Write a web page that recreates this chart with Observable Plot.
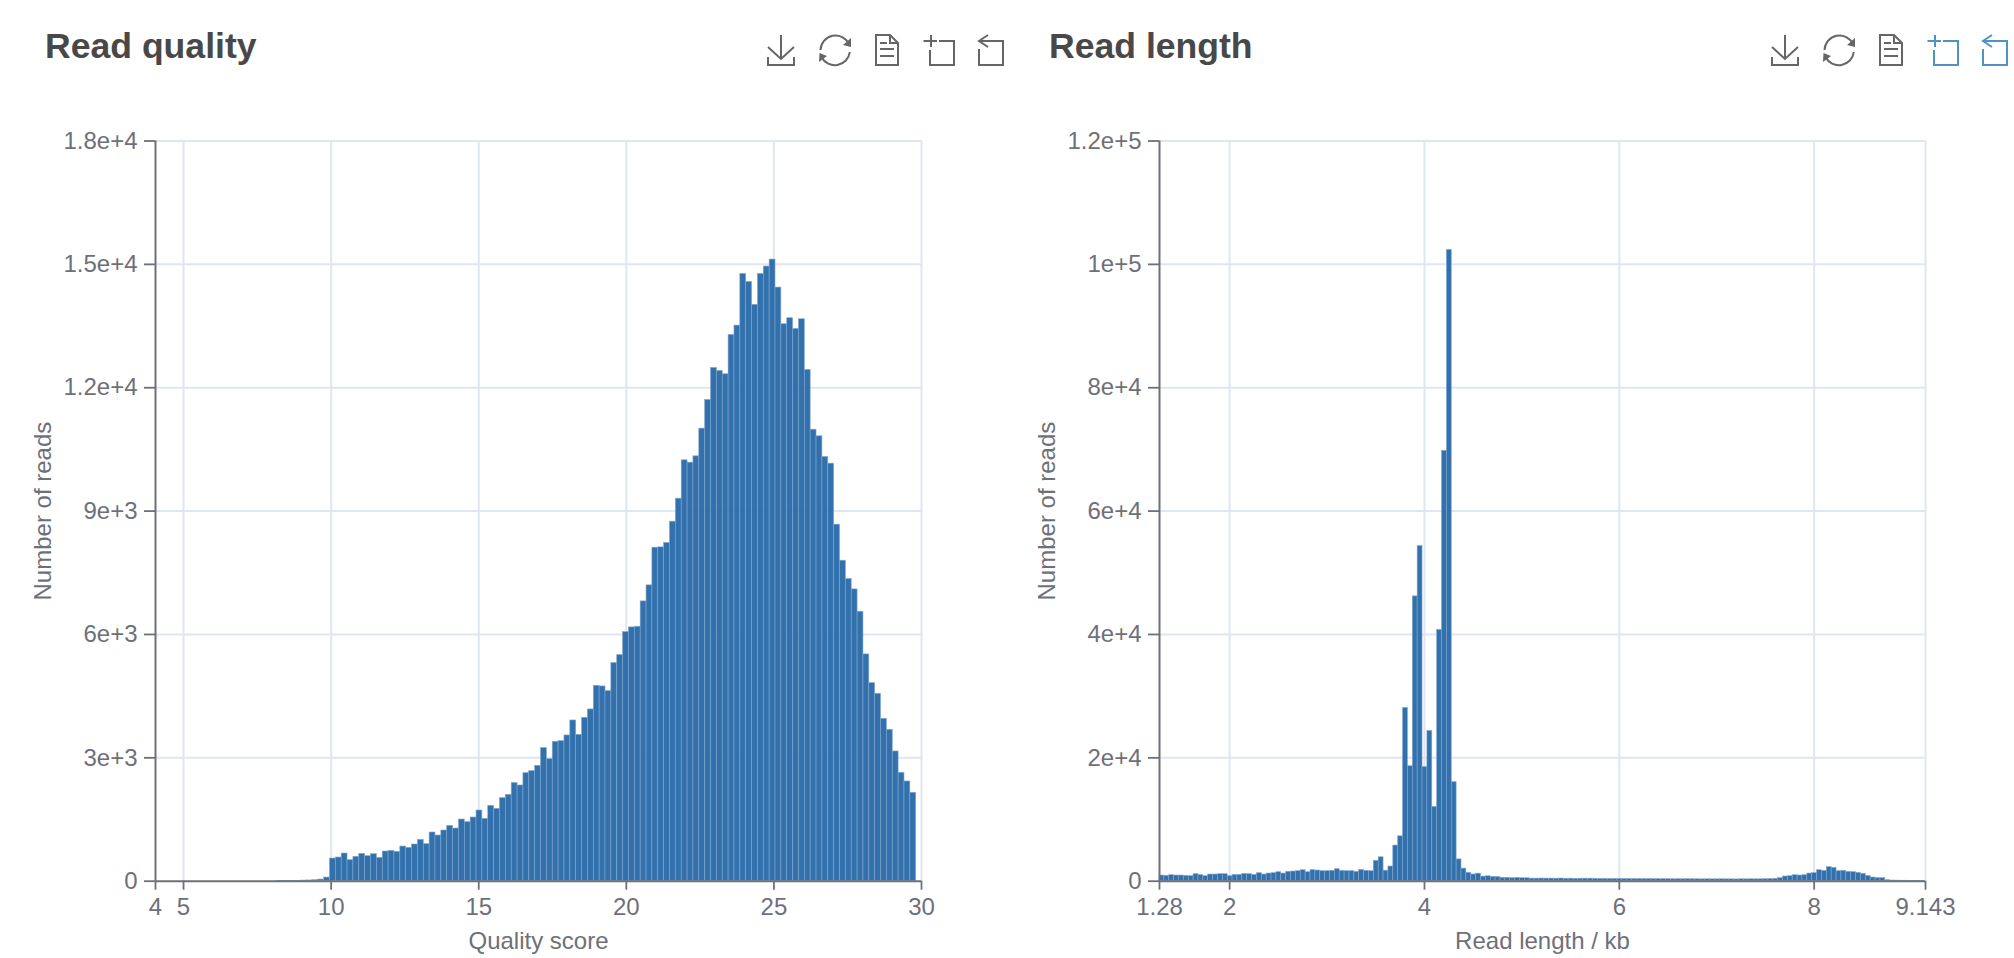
<!DOCTYPE html>
<html>
<head>
<meta charset="utf-8">
<script src="https://cdn.jsdelivr.net/npm/d3@7"></script>
<script src="https://cdn.jsdelivr.net/npm/@observablehq/plot@0.6"></script>
<style>
html,body{margin:0;padding:0;background:#fff;overflow:hidden}
#page{position:relative;width:2014px;height:958px}
.panel{position:absolute;top:100px;width:1004px}
h2{position:absolute;margin:0;top:24px;font:bold 35.6px "Liberation Sans",sans-serif;color:#484848;line-height:44px}
.tools{position:absolute;top:0;width:310px;height:80px;fill:none;stroke-width:2}
.tools .solid{stroke:none}
svg{display:block}
</style>
</head>
<body>
<div id="page"></div>
<script>
// Read quality histogram
const qualityStart = 8.173;
const qualityBinWidth = 0.1986;
const qualityCounts = [
  4,5,8,10,15,18,25,40,89,
  551,576,673,511,592,665,608,657,568,722,738,714,843,811,892,1006,900,1184,1111,1233,
  1346,1281,1500,1435,1549,1719,1517,1833,1760,
  2020,2100,2385,2328,2628,2676,2806,3236,2968,3390,3406,3544,3909,3560,3974,4177,4752,4736,4623,
  5304,5499,6058,6172,6188,6804,7194,8110,8118,8224,8743,
  9302,10235,10178,10332,11005,11703,12481,12408,12327,13284,13511,14768,14574,
  14016,14768,14947,15117,14436,13544,13690,13430,13665,12432,10980,10819,10316,10154,
  8670,7794,7348,7096,6553,5515,4817,4558,3950,3682,3155,2636,2425,2150
];
const qualityXDomain = [4.05,30];
const qualityXTicks = [4.05,5,10,15,20,25,30];
const qualityXLabels = ["4","5","10","15","20","25","30"];
const qualityXGrid = [5,10,15,20,25,30];
const qualityYTicks = [0,3000,6000,9000,12000,15000,18000];
const qualityYLabels = ["0","3e+3","6e+3","9e+3","1.2e+4","1.5e+4","1.8e+4"];

// Read length histogram
const lengthStart = 1.28;
const lengthBinWidth = 0.05;
const lengthCounts = [
  918,864,972,918,918,864,810,1134,972,810,1080,1080,1134,1134,810,1026,1026,1188,1134,1026,
  1296,1080,1242,1296,1458,1242,1512,1566,1620,1782,1458,1782,1728,1620,1620,1674,1944,1674,1620,1620,
  1512,1836,1674,1620,3294,3876,1700,2380,5780,7276,
  28084,18632,46172,54332,18496,24344,12036,40732,69768,102340,16048,
  3536,2040,1360,1088,1224,748,800,680,680,544,544,480,540,480,480,420,420,
  430,420,420,410,430,400,410,390,400,410,410,390,370,360,360,350,370,360,350,340,340,330,340,330,
  320,330,320,310,320,310,320,310,310,300,310,300,300,310,300,300,290,310,300,310,300,310,320,340,
  380,490,760,810,970,920,970,1240,1300,1780,1670,2270,2160,1620,1670,1510,1460,1350,1190,860,600,490,490,160,
  110,90,80,70,60,60,50
];
const lengthXDomain = [1.28,9.143];
const lengthXTicks = [1.28,2,4,6,8,9.143];
const lengthXLabels = ["1.28","2","4","6","8","9.143"];
const lengthXGrid = [2,4,6,8,9.143];
const lengthYTicks = [0,20000,40000,60000,80000,100000,120000];
const lengthYLabels = ["0","2e+4","4e+4","6e+4","8e+4","1e+5","1.2e+5"];

const axisColor = "#6E7079";
const gridColor = "#E0E6F1";
const barColor = "#2d6dab";
const barEdge = "#7fa6d0";
const font = '"Liberation Sans",sans-serif';

function chart({counts,start,bin,xDomain,xTicks,xLabels,xGrid,yTicks,yLabels,xLabel}) {
  const bars = counts.map((c,i)=>({x1:start+i*bin,x2:start+(i+1)*bin,y:c}));
  return Plot.plot({
    width:1004,height:858,
    marginTop:40.5,marginLeft:155,marginRight:83,marginBottom:77.3,
    style:{fontFamily:font,color:axisColor,overflow:"visible",background:"transparent"},
    x:{type:"linear",domain:xDomain},
    y:{type:"linear",domain:[0,yTicks[yTicks.length-1]]},
    marks:[
      Plot.ruleX(xGrid,{stroke:gridColor,strokeWidth:2}),
      Plot.ruleY(yTicks.slice(1),{stroke:gridColor,strokeWidth:2}),
      Plot.rectY(bars,{x1:"x1",x2:"x2",y:"y",fill:barColor,stroke:barEdge,strokeWidth:0.6,opacity:0.97}),
      Plot.axisX({ticks:xTicks,tickFormat:d=>xLabels[xTicks.indexOf(d)],tickSize:9,tickPadding:8,fontSize:24,strokeWidth:1.8,
        label:xLabel,labelAnchor:"center",labelArrow:"none",labelOffset:68,stroke:axisColor,fill:axisColor}),
      Plot.axisY({ticks:yTicks,tickFormat:d=>yLabels[yTicks.indexOf(d)],tickSize:11,tickPadding:7,fontSize:24,strokeWidth:1.8,
        label:"Number of reads",labelAnchor:"center",labelArrow:"none",labelOffset:122,stroke:axisColor,fill:axisColor}),
      Plot.ruleX([xDomain[0]],{stroke:axisColor,strokeWidth:2}),
      Plot.ruleY([0],{stroke:axisColor,strokeWidth:2})
    ]
  });
}

const panels = [
  {left:0,title:"Read quality",toolBase:696,active:false,plot:chart({
    counts:qualityCounts,start:qualityStart,bin:qualityBinWidth,xDomain:qualityXDomain,
    xTicks:qualityXTicks,xLabels:qualityXLabels,xGrid:qualityXGrid,yTicks:qualityYTicks,yLabels:qualityYLabels,
    xLabel:"Quality score"})},
  {left:1004,title:"Read length",toolBase:1700,active:true,plot:chart({
    counts:lengthCounts,start:lengthStart,bin:lengthBinWidth,xDomain:lengthXDomain,
    xTicks:lengthXTicks,xLabels:lengthXLabels,xGrid:lengthXGrid,yTicks:lengthYTicks,yLabels:lengthYLabels,
    xLabel:"Read length / kb"})}
];

const gray="#666",blue="#4f93c3";
function toolSvg(active){
  const c2=active?blue:gray;
  return `<path stroke="${gray}" d="M85 35V59M72 47L85 59L98 47M72 57V65H98V57"/>
  <path stroke="${gray}" d="M124.5 50A15 15 0 0 1 153 44M153.8 52A15 15 0 0 1 125.5 57"/>
  <path class="solid" fill="${gray}" d="M155 38L155 47L147 45ZM123 62L123.5 53L131 56Z"/>
  <path stroke="${gray}" d="M180 35H194L202 43V65H180ZM194 35V43H202M184 43H191M184 49H198M184 56H198"/>
  <path stroke="${c2}" d="M227.5 41H241M235 35V47M243 41H258V65H234V50"/>
  <path stroke="${c2}" d="M292 35L283 41L292 47M283 41H307V65H283V49"/>`;
}

const page=document.getElementById("page");
for(const p of panels){
  const d=document.createElement("div");
  d.className="panel";d.style.left=p.left+"px";
  d.appendChild(p.plot);
  page.appendChild(d);
  const h=document.createElement("h2");
  h.textContent=p.title;h.style.left=(p.left+45)+"px";
  page.appendChild(h);
  const t=document.createElementNS("http://www.w3.org/2000/svg","svg");
  t.setAttribute("class","tools");
  t.setAttribute("viewBox","0 0 310 80");
  t.style.left=p.toolBase+"px";
  t.innerHTML=toolSvg(p.active);
  page.appendChild(t);
}
</script>
</body>
</html>
